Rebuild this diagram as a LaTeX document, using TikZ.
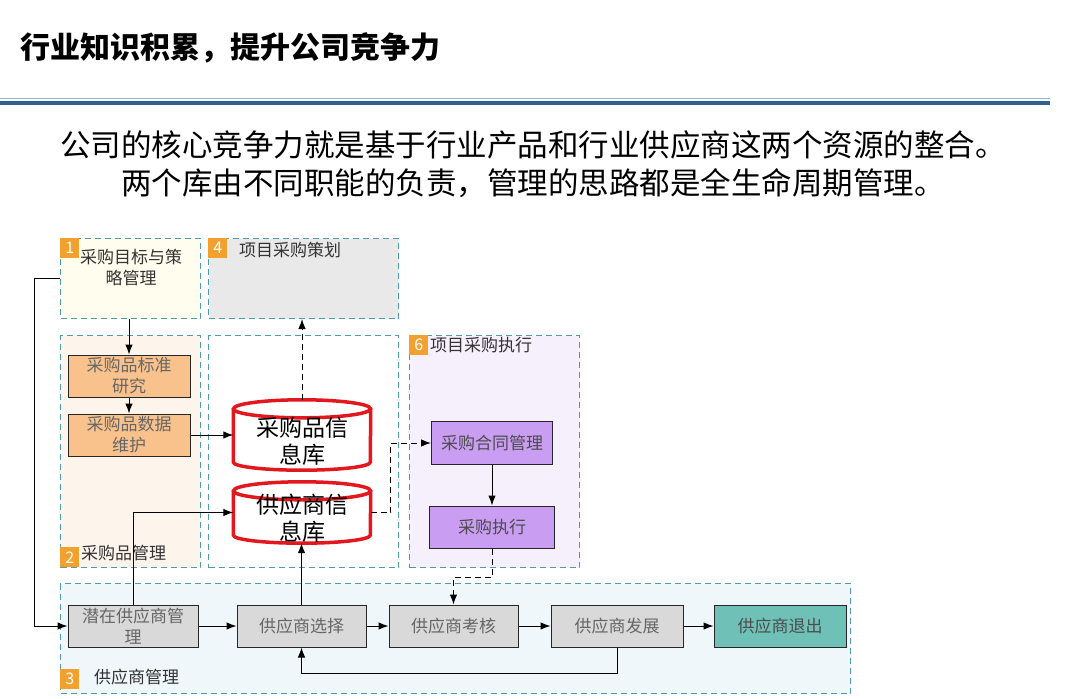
\documentclass[tikz,border=0pt]{standalone}
\usepackage{fontspec}
\setmainfont{Noto Sans CJK SC}
\usetikzlibrary{arrows.meta,calc}
\definecolor{dashc}{HTML}{4E9CAA}
\definecolor{numc}{HTML}{F2A12E}
\definecolor{fillA}{HTML}{FFFDEE}
\definecolor{fillB}{HTML}{E9E9E9}
\definecolor{fillC}{HTML}{FDF4EC}
\definecolor{fillD}{HTML}{F6EFFC}
\definecolor{fillE}{HTML}{EFF7FB}
\definecolor{orangec}{HTML}{F9C28C}
\definecolor{purplec}{HTML}{C99DF2}
\definecolor{grayc}{HTML}{D9D9D9}
\definecolor{tealc}{HTML}{6FC1B8}
\definecolor{redc}{HTML}{E3171E}
\definecolor{line1}{HTML}{8FB6D8}
\definecolor{line2}{HTML}{30608F}
\tikzset{
  grp/.style={draw=dashc, dash pattern=on 6pt off 4pt, line width=1pt, anchor=north west, inner sep=0},
  num/.style={fill=numc, text=white, font=\fontsize{16}{16}\selectfont, inner sep=0, minimum width=19pt, minimum height=20pt, anchor=north west},
  lbl/.style={font=\fontsize{17}{20}\selectfont, text=black!80, anchor=west, inner sep=0},
  box/.style={draw=black!85, line width=1pt, font=\fontsize{17}{21}\selectfont, minimum height=42pt, inner sep=0, align=center},
  gbox/.style={box, fill=grayc, text=black!60, minimum width=130pt},
  obox/.style={box, fill=orangec, text=black!60, minimum width=122pt},
  pbox/.style={box, fill=purplec, text=black!70},
  cylt/.style={font=\fontsize{23}{27}\selectfont, align=center, inner sep=0},
  cylshape/.style={minimum width=137pt, inner sep=0},
  cylline/.style={draw=redc, line width=3.5pt},
  arr/.style={-{Latex[length=10pt,width=7.5pt]}, line width=1pt},
  darr/.style={arr, dash pattern=on 6pt off 4pt},
}
\begin{document}
\begin{tikzpicture}[x=1pt,y=-1pt]
\useasboundingbox[fill=white] (0,0) rectangle (1080,699);
% title
\node[anchor=west, inner sep=0, font=\bfseries\fontsize{30}{31}\selectfont] (title) at (20,48) {行业知识积累，提升公司竞争力};
\fill[line1] (0,97.5) rectangle (1050,99);
\fill[line2] (0,100.5) rectangle (1050,105);
\node[inner sep=0, font=\fontsize{30.5}{38}\selectfont, align=center] (sub) at (533,164) {公司的核心竞争力就是基于行业产品和行业供应商这两个资源的整合。\\两个库由不同职能的负责，管理的思路都是全生命周期管理。};
% groups
\node[grp, fill=fillA, minimum width=140pt, minimum height=80pt] (g1) at (60,238) {};
\node[grp, fill=fillB, minimum width=190pt, minimum height=80pt] (g4) at (208,238) {};
\node[grp, fill=fillC, minimum width=140pt, minimum height=232pt] (g2) at (60,335) {};
\node[grp, fill=white, minimum width=190pt, minimum height=232pt] (g5) at (208,335) {};
\node[grp, fill=fillD, minimum width=170pt, minimum height=232pt] (g6) at (409,335) {};
\node[grp, fill=fillE, minimum width=790pt, minimum height=110pt] (g3) at (60,583) {};
% labels
\node[num] (n1) at (60,238) {1};
\node[font=\fontsize{17}{21}\selectfont, text=black!80, align=center, inner sep=0] (t1) at (131,268) {采购目标与策\\略管理};
\node[num] (n4) at (208,238) {4};
\node[lbl] (t4) at (239,250) {项目采购策划};
\node[num] (n2) at (60,547) {2};
\node[lbl] (t2) at (81,553) {采购品管理};
\node[num] (n6) at (409,335) {6};
\node[lbl] (t6) at (430,345) {项目采购执行};
\node[num] (n3) at (60,669) {3};
\node[lbl] (t3) at (94,677) {供应商管理};
% orange boxes
\node[obox] (std) at (129,376) {采购品标准\\研究};
\node[obox] (dat) at (129,435) {采购品数据\\维护};
% cylinders
\node[cylshape, minimum height=70pt] (c1) at (302,435) {};
\draw[cylline, fill=white] (c1.north west) ++(0,9) -- ($(c1.south west)+(0,-8)$) arc[start angle=180, end angle=0, x radius=68.5, y radius=8] -- ($(c1.north east)+(0,9)$);
\draw[cylline] ($(c1.north)+(0,9)$) ellipse[x radius=68.5, y radius=9];
\node[cylt] (c1t) at (302,441) {采购品信\\息库};
\node[cylshape, minimum height=61pt] (c2) at (302,512.5) {};
\draw[cylline, fill=white] (c2.north west) ++(0,9) -- ($(c2.south west)+(0,-8)$) arc[start angle=180, end angle=0, x radius=68.5, y radius=8] -- ($(c2.north east)+(0,9)$);
\draw[cylline] ($(c2.north)+(0,9)$) ellipse[x radius=68.5, y radius=9];
\node[cylt] (c2t) at (302,518) {供应商信\\息库};
% purple boxes
\node[pbox, minimum width=121pt, minimum height=43pt] (pc) at (492,443) {采购合同管理};
\node[pbox, minimum width=125pt] (px) at (492,527) {采购执行};
% bottom row
\node[gbox] (z1) at (133,626) {潜在供应商管\\理};
\node[gbox, minimum width=129pt] (z2) at (301.5,626) {供应商选择};
\node[gbox, minimum width=129pt] (z3) at (453.5,626) {供应商考核};
\node[gbox, minimum width=132pt] (z4) at (617,626) {供应商发展};
\node[gbox, minimum width=132pt, fill=tealc, text=black!70] (z5) at (780,626) {供应商退出};
% connectors
\draw[arr] (g1.west) -- ++(-26,0) |- (z1.west);
\draw[arr] (std.north |- g1.south) -- (std.north);
\draw[arr] (std.south) -- (dat.north);
\draw[arr] (dat.east) -- (dat.east -| c1.west);
\draw[darr] (c1.north) -- (c1.north |- g4.south);
\draw[darr] (c2.east) -- ++(20,0) |- (pc.west);
\draw[arr] (pc.south) -- (px.north);
\draw[darr] (px.south) -- ++(0,29) -| (z3.north);
\draw[arr] (z1.east) -- (z2.west);
\draw[arr] (z2.east) -- (z3.west);
\draw[arr] (z3.east) -- (z4.west);
\draw[arr] (z4.east) -- (z5.west);
\draw[arr] (z4.south) -- ++(0,26) -| (z2.south);
\draw[arr] (z2.north) -- (z2.north |- c2.south);
\draw[arr] (z1.north) |- (c2.west);
\end{tikzpicture}
\end{document}
